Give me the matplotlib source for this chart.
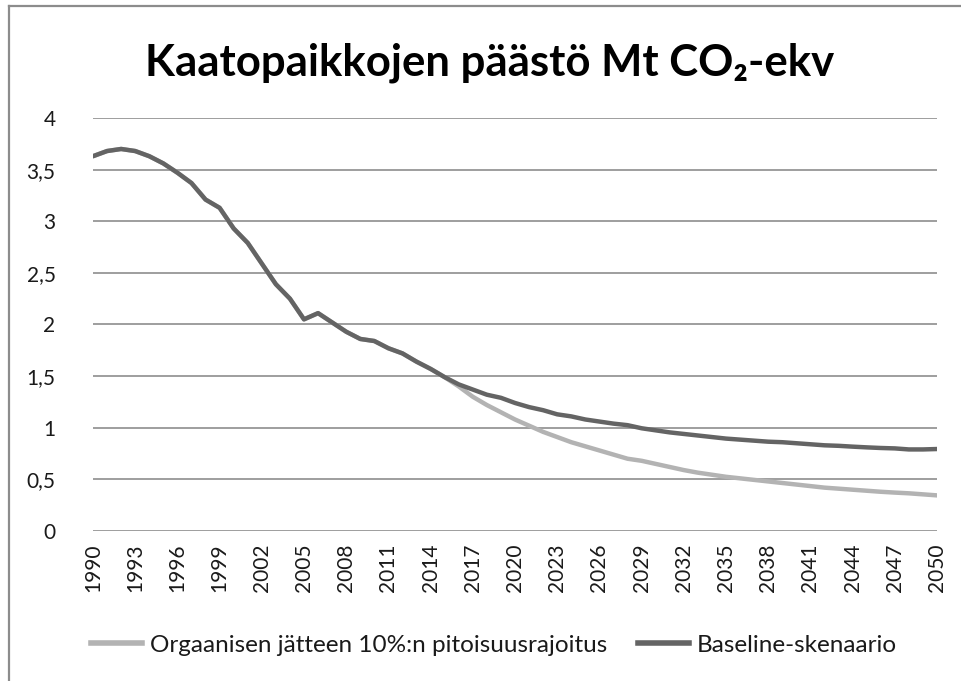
import matplotlib
matplotlib.use("Agg")
import matplotlib.pyplot as plt
from matplotlib.lines import Line2D

plt.rcParams['font.family'] = ['Lato', 'DejaVu Sans']

years = list(range(1990, 2051))

baseline = [3.63, 3.68, 3.70, 3.68, 3.63, 3.56, 3.47, 3.37, 3.21, 3.13,
            2.93, 2.79, 2.59, 2.39, 2.25, 2.05, 2.11, 2.02, 1.93, 1.86,
            1.84, 1.77, 1.72, 1.64, 1.57, 1.49, 1.42, 1.37, 1.32, 1.29,
            1.24, 1.20, 1.17, 1.13, 1.11, 1.08, 1.06, 1.04, 1.025, 0.995,
            0.975, 0.955, 0.94, 0.925, 0.91, 0.895, 0.885, 0.875, 0.865, 0.86,
            0.85, 0.84, 0.83, 0.825, 0.817, 0.81, 0.804, 0.80, 0.79, 0.79,
            0.794]

organic = [3.63, 3.68, 3.70, 3.68, 3.63, 3.56, 3.47, 3.37, 3.21, 3.13,
           2.93, 2.79, 2.59, 2.39, 2.25, 2.05, 2.11, 2.02, 1.93, 1.86,
           1.84, 1.77, 1.72, 1.64, 1.57, 1.49, 1.40, 1.30, 1.22, 1.15,
           1.08, 1.02, 0.96, 0.91, 0.86, 0.82, 0.78, 0.74, 0.70, 0.68,
           0.65, 0.62, 0.59, 0.565, 0.545, 0.525, 0.51, 0.495, 0.48, 0.465,
           0.45, 0.435, 0.42, 0.41, 0.40, 0.39, 0.38, 0.372, 0.365, 0.355,
           0.345]

series_names = ["Orgaanisen jätteen 10%:n pitoisuusrajoitus", "Baseline-skenaario"]
title = "Kaatopaikkojen päästö Mt CO₂-ekv"
y_ticks = [0, 0.5, 1, 1.5, 2, 2.5, 3, 3.5, 4]
y_labels = ["0", "0,5", "1", "1,5", "2", "2,5", "3", "3,5", "4"]
x_ticks = list(range(1990, 2051, 3))

c_light = "#b3b3b3"
c_dark = "#646464"
c_grid = "#8e8e8e"

fig = plt.figure(figsize=(9.62, 6.81), dpi=100)
ax = fig.add_axes([93/962, 1-531/681, (937-93)/962, (531-118)/681])

ax.plot(years, organic, color=c_light, lw=3.2, solid_capstyle='round', zorder=3)
ax.plot(years, baseline, color=c_dark, lw=3.2, solid_capstyle='round', zorder=4)

ax.set_xlim(1990, 2050)
ax.set_ylim(0, 4)
ax.set_yticks(y_ticks)
ax.set_yticklabels(y_labels)
ax.set_xticks(x_ticks)
ax.set_xticklabels([str(x) for x in x_ticks], rotation=90)
ax.tick_params(axis='both', length=0, labelsize=15, colors='#1a1a1a')
ax.tick_params(axis='y', pad=27)
ax.tick_params(axis='x', pad=9)
for lab in ax.get_yticklabels():
    lab.set_horizontalalignment('right')
ax.grid(axis='y', color=c_grid, lw=1.2)
ax.set_axisbelow(True)
for s in ax.spines.values():
    s.set_visible(False)

fig.text(490/962, 1-63/681, title, ha='center', va='center', fontsize=31.5,
         fontweight='bold', color='black')

handles = [Line2D([], [], color=c_light, lw=4),
           Line2D([], [], color=c_dark, lw=4)]
fig.legend(handles, series_names, loc='center', bbox_to_anchor=(494/962, 1-645/681),
           ncol=2, frameon=False, fontsize=17.5, handlelength=2.1, handletextpad=0.3,
           columnspacing=1.3, labelcolor='#1a1a1a')

# outer frame lines (top and left)
fig.add_artist(Line2D([9/962, 9/962], [0, 1-6/681], color='#8c8c8c', lw=1.6,
                      transform=fig.transFigure))
fig.add_artist(Line2D([9/962, 1], [1-6/681, 1-6/681], color='#8c8c8c', lw=1.6,
                      transform=fig.transFigure))

fig.savefig("out.png", dpi=100, facecolor='white')
